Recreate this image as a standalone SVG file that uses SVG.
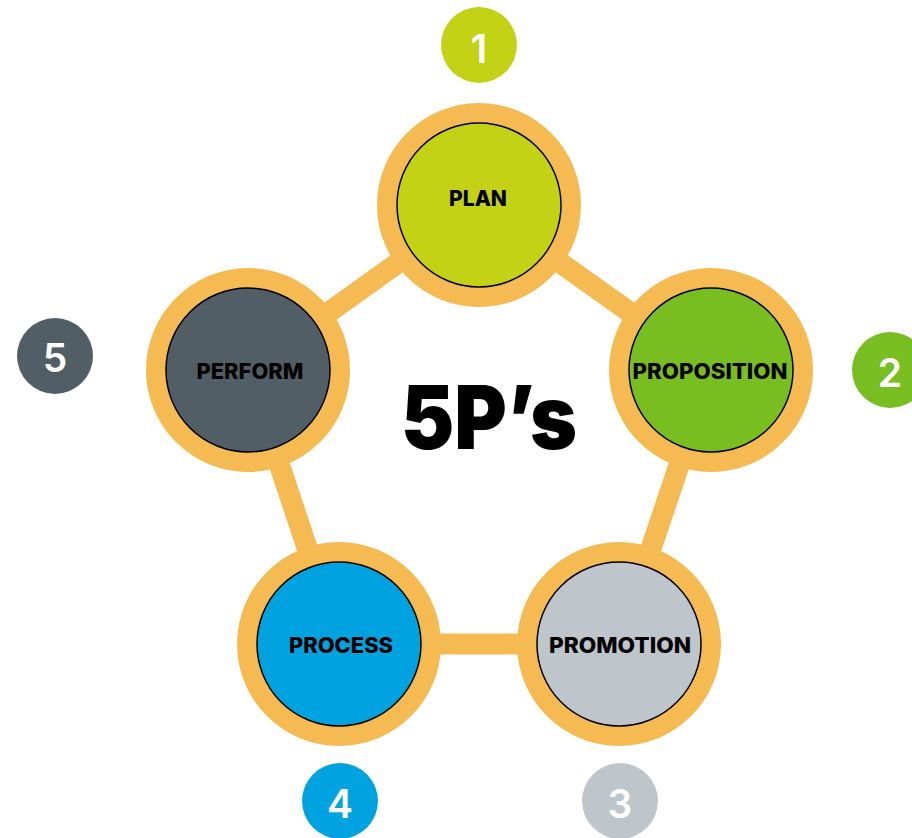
<svg xmlns="http://www.w3.org/2000/svg" width="912" height="838" viewBox="0 0 912 838">
<style>
.ring{fill:#F5BA52}
.inner{stroke:#000;stroke-width:1.5}
.lbl{font-family:Inter,"Liberation Sans",sans-serif;font-weight:800;font-size:21px;fill:#000;text-anchor:middle}
.num{font-family:Inter,"Liberation Sans",sans-serif;font-weight:600;font-size:39px;fill:#fff;text-anchor:middle}
.conn{stroke:#F5BA52;stroke-width:21;fill:none}
</style>
<rect width="912" height="838" fill="#fff"/>
<g id="connectors">
<path class="conn" d="M479,205 L711,370 L619,644 L339,644 L248,370 Z"/>
</g>
<g id="plan">
<circle class="ring" cx="479" cy="205" r="102"/>
<circle class="inner" cx="479" cy="205" r="82" fill="#C3D215"/>
<text class="lbl" x="478" y="206" textLength="58" lengthAdjust="spacingAndGlyphs">PLAN</text>
</g>
<g id="proposition">
<circle class="ring" cx="711" cy="370" r="102"/>
<circle class="inner" cx="711" cy="370" r="82" fill="#78BE21"/>
<text class="lbl" x="710" y="379" textLength="155" lengthAdjust="spacingAndGlyphs">PROPOSITION</text>
</g>
<g id="promotion">
<circle class="ring" cx="619" cy="644" r="102"/>
<circle class="inner" cx="619" cy="644" r="82" fill="#BEC5CB"/>
<text class="lbl" x="620" y="653" textLength="142" lengthAdjust="spacingAndGlyphs">PROMOTION</text>
</g>
<g id="process">
<circle class="ring" cx="339" cy="644" r="102"/>
<circle class="inner" cx="339" cy="644" r="82" fill="#00A3DF"/>
<text class="lbl" x="341" y="653" textLength="104" lengthAdjust="spacingAndGlyphs">PROCESS</text>
</g>
<g id="perform">
<circle class="ring" cx="248" cy="370" r="102"/>
<circle class="inner" cx="248" cy="370" r="82" fill="#525E66"/>
<text class="lbl" x="250" y="379" textLength="107" lengthAdjust="spacingAndGlyphs">PERFORM</text>
</g>
<g id="center">
<text x="489" y="449" font-family="Inter,'Liberation Sans',sans-serif" font-weight="900" font-size="88" text-anchor="middle" textLength="176" lengthAdjust="spacingAndGlyphs" fill="#000">5P’s</text>
</g>
<g id="badge1"><circle cx="479" cy="45" r="38" fill="#C3D215"/><text class="num" x="479" y="63">1</text></g>
<g id="badge2"><circle cx="890" cy="370" r="38" fill="#78BE21"/><text class="num" x="890" y="387">2</text></g>
<g id="badge3"><circle cx="620" cy="801" r="38" fill="#BEC5CB"/><text class="num" x="620" y="818">3</text></g>
<g id="badge4"><circle cx="340" cy="801" r="38" fill="#00A3DF"/><text class="num" x="340" y="818">4</text></g>
<g id="badge5"><circle cx="55" cy="356" r="38" fill="#525E66"/><text class="num" x="55" y="372">5</text></g>
</svg>
